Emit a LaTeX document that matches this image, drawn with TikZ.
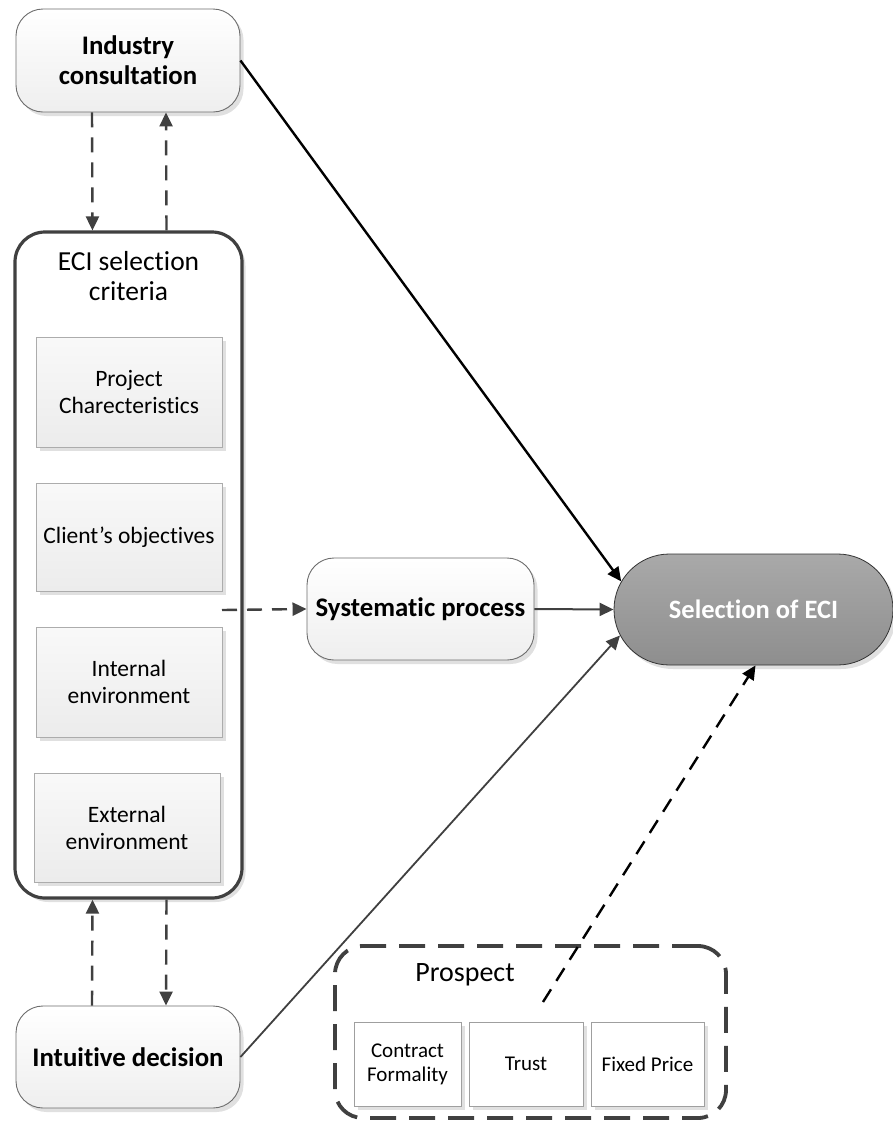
\documentclass[tikz,border=0pt]{standalone}
\usepackage{fontspec}
\setmainfont{Carlito}[RawFeature=-liga]
\usetikzlibrary{arrows.meta,shapes.misc,shadows}

\definecolor{edge}{HTML}{404040}
\definecolor{thinedge}{HTML}{6E6E6E}
\definecolor{selfillA}{HTML}{A9A9A9}
\definecolor{selfillB}{HTML}{8E8E8E}

\tikzset{
  softshadow/.style={drop shadow={shadow xshift=3.5pt, shadow yshift=-4pt, fill=black, opacity=.12}},
  stepbox/.style={draw=thinedge, line width=0.9pt, rounded corners=27pt,
    top color=white, bottom color=gray!13, softshadow, inner sep=0pt,
    align=center, font=\fontsize{26.8}{30}\selectfont\bfseries},
  critbox/.style={draw=gray!65, line width=0.9pt, top color=gray!5, bottom color=gray!15,
    softshadow, inner sep=0pt, minimum width=186, minimum height=110,
    align=center, font=\fontsize{23.5}{27}\selectfont},
  prosbox/.style={draw=gray!75, line width=0.9pt, fill=white,
    softshadow, inner sep=0pt, minimum height=84,
    align=center, font=\fontsize{21}{24}\selectfont},
  dasharrow/.style={draw=edge, line width=2.4pt, dash pattern=on 15pt off 10pt,
    -{Triangle[length=14pt,width=13pt]}},
  solidarrow/.style={draw=edge, line width=2pt, -{Triangle[length=14pt,width=13pt]}},
}

\begin{document}
\begin{tikzpicture}[x=1pt,y=-1pt]
\useasboundingbox[fill=white] (0,0) rectangle (893,1122);

% decision sources
\node[stepbox, minimum width=224, minimum height=103] (ind) at (128,60.5)
  {Industry\\consultation};
\node[stepbox, minimum width=224, minimum height=102] (int) at (128,1057)
  {Intuitive decision};
\node[stepbox, minimum width=227, minimum height=102] (sys) at (420.5,609)
  {Systematic process};

% outcome
\node[rounded rectangle, draw=gray!40!black, line width=0.8pt,
  top color=selfillA, bottom color=selfillB, softshadow,
  minimum width=279, minimum height=111, inner sep=0pt,
  text=white, font=\fontsize{26.5}{30}\selectfont\bfseries] (sel) at (753.5,609.5)
  {Selection of ECI};

% criteria container
\node[draw=edge, line width=3.2pt, rounded corners=30pt, fill=white, softshadow,
  minimum width=227, minimum height=666, inner sep=0pt] (eci) at (128.5,565) {};
\node[align=center, font=\fontsize{27.5}{30}\selectfont] (ecititle) at (128.5,276)
  {ECI selection\\criteria};
\node[critbox] (proj) at (129,392) {Project\\Charecteristics};
\node[critbox, minimum height=108] (cli) at (129,537) {Client’s objectives};
\node[critbox] (inte) at (129,682) {Internal\\environment};
\node[critbox, minimum height=109] (exte) at (127,827.5) {External\\environment};

% prospect container
\node[draw=edge, line width=3.8pt, dash pattern=on 26pt off 13pt, rounded corners=28pt,
  fill=white, minimum width=391, minimum height=172, inner sep=0pt] (pros) at (530.5,1032) {};
\node[font=\fontsize{28}{32}\selectfont] (prostitle) at (465,975) {Prospect};
\node[prosbox, minimum width=107] (form) at (407.5,1064) {Contract\\Formality};
\node[prosbox, minimum width=114] (trust) at (526,1064) {Trust};
\node[prosbox, minimum width=113] (price) at (647.5,1064) {Fixed Price};

% connector end points
\coordinate (ecitap) at (222,610);
\coordinate (prostap) at (543,1002);

% links between consultation, criteria and intuitive decision
\draw[dasharrow] ([xshift=-36]ind.south) -- ([xshift=-36]eci.north);
\draw[dasharrow] ([xshift=38]eci.north) -- ([xshift=38]ind.south);
\draw[dasharrow] ([xshift=-36]int.north) -- ([xshift=-36]eci.south);
\draw[dasharrow] ([xshift=38]eci.south) -- ([xshift=38]int.north);

% criteria feed the systematic process
\draw[dasharrow] (ecitap) -- (sys.west);

% routes to the selection
\draw[solidarrow] (sys.east) -- (sel.west);
\draw[solidarrow, draw=black, line width=2.4pt] (ind.east) -- (sel.168);
\draw[solidarrow, line width=1.8pt] (int.east) -- (sel.191);
\draw[dasharrow, draw=black] (prostap) -- ([xshift=2]sel.south);
\end{tikzpicture}
\end{document}
